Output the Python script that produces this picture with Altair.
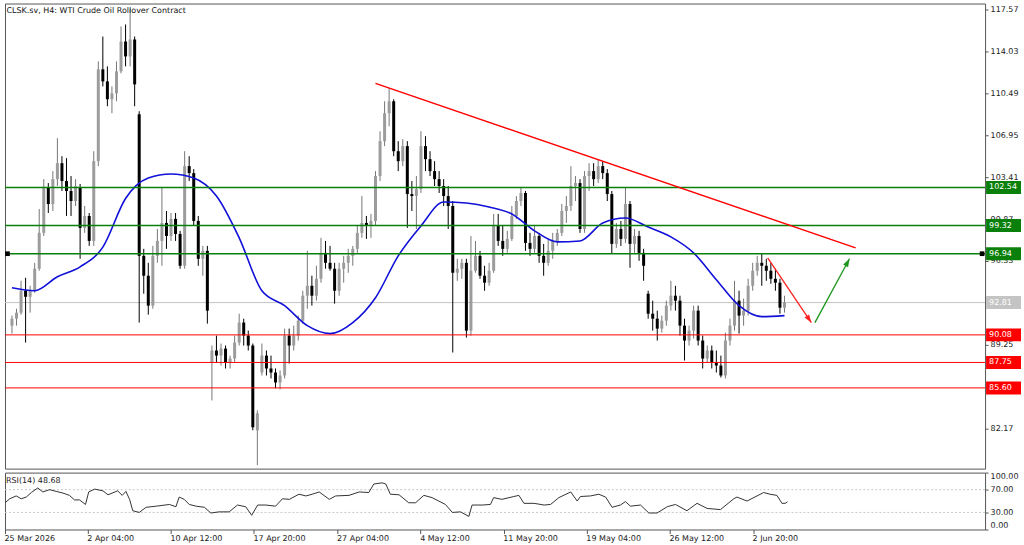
import altair as alt
import pandas as pd

# ---------------- data ----------------
TITLE = "CLSK.sv, H4:  WTI Crude Oil Rollover Contract"
RSI_TITLE = "RSI(14) 48.68"

OPEN = [
    90.86, 91.45, 91.96, 93.81, 93.30, 93.81, 95.67, 98.70, 102.57, 101.14,
    103.24, 104.59, 103.08, 102.24, 101.39, 102.49, 99.12, 100.13, 98.02, 104.76,
    112.52, 111.50, 109.99, 110.49, 112.35, 114.87, 113.61, 115.04, 108.72, 96.76,
    95.08, 92.55, 96.76, 98.02, 99.54, 98.44, 99.88, 98.61, 95.92, 104.34,
    103.75, 99.71, 96.51, 97.18, 87.75, 88.76, 88.33, 88.92, 87.75, 88.08,
    89.43, 91.12, 90.02, 89.18, 82.02, 86.90, 88.33, 87.24, 86.90, 86.06,
    86.65, 90.02, 89.18, 90.02, 91.28, 93.39, 94.23, 93.39, 94.82, 97.01,
    96.17, 95.67, 93.81, 95.67, 96.17, 96.76, 97.35, 98.70, 99.54, 99.29,
    99.71, 103.50, 106.45, 108.81, 109.82, 105.60, 104.76, 106.03, 101.98, 101.81,
    102.40, 106.03, 104.93, 103.92, 103.24, 102.66, 101.81, 100.97, 95.33, 95.67,
    96.17, 90.44, 95.50, 96.76, 95.08, 94.49, 95.50, 99.29, 98.02, 97.35,
    98.19, 100.13, 101.39, 102.07, 97.85, 97.35, 98.44, 96.76, 96.17, 97.18,
    98.02, 98.70, 100.55, 100.97, 102.66, 102.91, 99.03, 103.50, 103.92, 103.24,
    104.34, 103.75, 101.98, 97.77, 99.03, 98.19, 101.14, 97.77, 98.44, 97.01,
    93.56, 91.87, 91.45, 90.61, 91.28, 92.55, 93.39, 92.97, 90.86, 89.60,
    90.44, 92.13, 89.60, 88.08, 88.76, 87.75, 87.49, 86.65, 89.60, 90.86,
    92.97, 91.71, 92.13, 94.23, 95.50, 96.17, 95.92, 95.50, 94.82, 94.49,
    92.38,
]
HIGH = [
    91.71, 92.29, 94.65, 94.91, 94.23, 96.17, 100.72, 103.24, 102.91, 103.92,
    106.70, 105.18, 105.01, 103.50, 103.24, 102.83, 100.97, 100.38, 105.60, 113.19,
    115.29, 112.77, 111.08, 113.19, 116.14, 116.31, 117.65, 115.29, 108.98, 97.35,
    96.17, 97.60, 99.03, 102.49, 100.55, 100.38, 100.38, 98.87, 105.60, 105.18,
    104.09, 100.13, 97.60, 97.60, 89.18, 90.02, 89.35, 89.18, 88.33, 90.02,
    91.87, 91.45, 90.44, 89.35, 83.70, 89.35, 88.76, 88.33, 87.24, 87.07,
    90.61, 90.61, 90.86, 91.71, 93.81, 97.18, 95.08, 95.92, 98.28, 98.02,
    97.60, 96.17, 96.17, 96.76, 97.35, 97.60, 99.29, 101.81, 100.13, 100.30,
    103.92, 107.29, 109.82, 110.91, 109.99, 106.45, 106.62, 106.45, 103.08, 103.50,
    107.29, 106.87, 105.60, 104.76, 103.92, 103.24, 102.66, 101.39, 96.51, 96.51,
    96.51, 98.44, 98.02, 97.18, 95.92, 96.17, 100.30, 100.30, 99.29, 98.87,
    100.97, 101.81, 102.49, 102.24, 98.70, 99.29, 98.70, 97.77, 98.19, 98.70,
    99.03, 101.14, 101.81, 104.34, 103.50, 103.24, 103.92, 104.59, 104.59, 104.93,
    104.76, 104.09, 102.24, 99.54, 99.71, 102.49, 101.39, 99.03, 98.87, 97.35,
    93.81, 92.97, 92.13, 91.71, 92.97, 94.65, 94.23, 93.39, 91.45, 90.86,
    92.55, 92.55, 90.02, 89.18, 89.18, 88.76, 88.33, 90.27, 91.45, 94.65,
    93.81, 93.14, 94.82, 96.17, 96.76, 96.93, 96.51, 96.17, 95.67, 94.82,
    93.39,
]
LOW = [
    90.19, 90.86, 91.79, 89.43, 91.96, 93.64, 95.50, 98.44, 100.38, 100.55,
    102.66, 102.24, 100.13, 100.13, 100.97, 96.51, 98.70, 97.60, 97.60, 104.34,
    111.08, 109.40, 108.81, 109.82, 112.18, 112.77, 112.77, 109.40, 91.12, 93.56,
    91.79, 92.29, 96.17, 95.92, 97.35, 98.02, 98.02, 95.67, 95.67, 103.08,
    99.29, 95.92, 95.08, 91.03, 84.54, 87.75, 87.49, 87.24, 87.24, 87.75,
    89.18, 89.18, 88.76, 82.02, 79.07, 86.65, 86.65, 86.40, 85.56, 85.47,
    86.40, 87.66, 88.76, 89.60, 91.03, 92.29, 92.55, 92.97, 94.49, 95.67,
    95.50, 92.72, 93.39, 94.49, 95.33, 95.92, 97.01, 98.28, 98.19, 98.28,
    99.29, 103.08, 106.03, 107.71, 105.18, 103.92, 104.34, 99.12, 100.55, 99.03,
    102.07, 103.92, 103.50, 102.66, 102.07, 100.97, 99.03, 88.59, 94.65, 94.82,
    89.85, 90.02, 95.33, 94.82, 93.81, 94.23, 95.33, 97.60, 96.76, 97.01,
    98.02, 99.88, 100.97, 97.18, 96.76, 97.01, 96.17, 95.08, 95.92, 96.51,
    97.60, 98.44, 99.54, 100.55, 101.39, 98.70, 98.70, 102.24, 102.66, 102.91,
    103.24, 101.39, 96.93, 97.43, 97.60, 97.85, 95.75, 97.01, 96.34, 94.65,
    91.45, 90.44, 89.60, 90.27, 90.86, 92.13, 92.13, 90.02, 87.91, 89.18,
    89.77, 89.18, 87.24, 87.75, 87.24, 86.90, 86.48, 86.40, 89.18, 90.44,
    90.19, 90.86, 91.71, 93.81, 95.08, 94.23, 94.65, 94.40, 93.81, 91.87,
    91.96,
]
CLOSE = [
    91.45, 91.96, 93.81, 93.30, 93.81, 95.67, 98.70, 102.57, 101.14, 103.24,
    104.59, 103.08, 102.24, 101.39, 102.66, 99.12, 100.13, 98.02, 104.76, 112.52,
    111.50, 109.99, 110.49, 112.35, 114.87, 113.61, 115.04, 111.25, 96.76, 95.08,
    92.55, 96.76, 98.02, 99.54, 98.44, 99.88, 98.61, 95.92, 104.34, 103.75,
    99.71, 96.51, 97.18, 92.13, 88.76, 88.33, 88.92, 87.75, 88.08, 89.43,
    91.12, 90.02, 89.18, 82.27, 83.45, 88.33, 87.24, 86.90, 86.06, 86.65,
    90.02, 89.18, 90.02, 91.28, 93.39, 94.23, 93.39, 94.82, 97.01, 96.17,
    95.67, 93.81, 95.67, 96.17, 96.76, 97.35, 98.70, 99.54, 99.29, 99.71,
    103.50, 106.45, 108.81, 109.82, 105.60, 104.76, 106.03, 101.98, 101.81, 102.40,
    106.03, 104.93, 103.92, 103.24, 102.66, 101.81, 100.97, 95.33, 95.67, 96.17,
    90.44, 95.50, 96.76, 95.08, 94.49, 95.50, 99.29, 98.02, 97.35, 98.19,
    100.13, 101.39, 102.07, 97.85, 97.35, 98.44, 96.76, 96.17, 97.18, 98.02,
    98.70, 100.55, 100.97, 102.66, 102.91, 99.03, 103.50, 103.92, 103.24, 104.34,
    103.75, 101.98, 97.77, 99.03, 98.19, 101.14, 97.77, 98.44, 97.01, 95.92,
    91.87, 91.45, 90.61, 91.28, 92.55, 93.39, 92.97, 90.86, 89.60, 90.44,
    92.13, 89.60, 88.08, 88.76, 87.75, 87.49, 86.65, 89.60, 90.86, 92.97,
    91.71, 92.13, 94.23, 95.50, 96.17, 95.92, 95.50, 94.82, 94.49, 92.38,
    92.81,
]

# moving average sampled every 5 bars
MA_BAR = list(range(0, 171, 5))
MA_VAL = [
    94.06, 93.81, 94.99, 95.83, 97.50, 101.60, 103.33, 103.67, 103.33, 101.81,
    98.28, 93.81, 92.55, 90.86, 90.19, 91.12, 93.22, 96.76, 99.29, 101.31,
    101.22, 100.89, 100.30, 98.87, 97.94, 98.02, 99.54, 99.96, 99.20, 98.36,
    97.01, 94.74, 92.55, 91.62, 91.71,
]

RSI_BAR = [
    -0.4, 0.6, 2.0, 3.1, 4.2, 5.3, 6.7, 7.8, 9.3, 10.7,
    12.2, 13.6, 14.7, 15.8, 17.1, 17.8, 19.1, 20.9, 22.0, 24.1,
    25.1, 25.9, 26.7, 27.4, 28.8, 30.3, 32.5, 35.4, 36.8, 37.5,
    38.6, 39.7, 41.2, 43.0, 44.4, 46.2, 48.4, 50.2, 52.0, 53.3,
    54.6, 56.4, 58.5, 60.0, 61.5, 63.6, 65.1, 66.5, 68.0, 70.2,
    71.6, 74.5, 76.7, 78.8, 79.9, 81.7, 82.5, 83.5, 85.4, 87.5,
    89.0, 90.8, 92.6, 95.5, 97.0, 98.8, 100.6, 101.3, 103.5, 105.3,
    106.0, 107.8, 110.4, 111.5, 112.6, 114.8, 117.0, 118.4, 120.2, 122.8,
    124.2, 124.9, 127.1, 128.9, 130.4, 131.8, 133.6, 134.7, 135.8, 138.0,
    139.8, 141.6, 143.8, 145.6, 148.1, 150.3, 152.5, 155.4, 158.3, 159.0,
    161.2, 164.8, 166.2, 167.7, 168.8, 169.5, 170.0,
]
RSI_VAL = [
    47, 54, 59, 54, 57, 65, 73, 66, 70, 67,
    64, 60, 52, 52, 44, 66, 71, 68, 61, 68,
    60, 67, 53, 33, 30, 39, 41, 44, 40, 57,
    53, 44, 41, 39, 29, 31, 31, 43, 40, 25,
    43, 43, 41, 54, 53, 62, 59, 62, 66, 53,
    59, 60, 66, 65, 80, 82, 80, 62, 61, 47,
    47, 60, 56, 44, 30, 31, 23, 43, 43, 44,
    56, 53, 58, 60, 46, 46, 43, 44, 56, 66,
    50, 58, 59, 62, 57, 39, 43, 49, 41, 43,
    29, 29, 40, 44, 33, 46, 37, 35, 54, 57,
    50, 65, 62, 60, 46, 46, 48.68,
]
RSI_LEVELS = [70, 30]

LEVEL_PRICE = [102.54, 99.32, 96.94, 92.81, 90.08, 87.75, 85.60]
LEVEL_KIND = ["resistance", "resistance", "resistance", "current",
              "support", "support", "support"]
SELECTED_LEVEL = 96.94

TREND_BAR = [80.0, 185.65]
TREND_PRICE = [111.33, 97.43]
DOWN_ARROW_BAR = [166.3, 175.9]
DOWN_ARROW_PRICE = [96.59, 91.12]
UP_ARROW_BAR = [176.7, 184.3]
UP_ARROW_PRICE = [91.12, 96.51]

PRICE_TICKS = [117.57, 114.03, 110.49, 106.95, 103.41, 99.87, 96.33,
               92.79, 89.25, 85.71, 82.17]
RSI_TICKS = [100, 70, 30, 0]
TIME_TICK_BARS = [-0.43, 17.6, 35.7, 53.8, 72.0, 90.1, 108.2, 126.3, 144.4, 162.5]
TIME_LABELS = ["25 Mar 2026", "2 Apr 04:00", "10 Apr 12:00", "17 Apr 20:00",
               "27 Apr 04:00", "4 May 12:00", "11 May 20:00", "19 May 04:00",
               "26 May 12:00", "2 Jun 20:00"]

# ---------------- layout / style ----------------
W = 982
H_MAIN = 466
H_RSI = 57
X_DOMAIN = [-0.4348, 213.04]
Y_DOMAIN = [78.78, 118.08]
FONT = "DejaVu Sans"
FS = 8
FRAME = "#555555"
GREEN = "#0a800a"
RED = "#ff0000"
GREY = "#c4c4c4"
UP_BODY = "#9c9c9c"
UP_WICK = "#767676"
DOWN = "#000000"
ARROW = "M0,0L-0.7,2L0.7,2Z"

xs = alt.Scale(domain=X_DOMAIN, nice=False, zero=False)
ys = alt.Scale(domain=Y_DOMAIN, nice=False, zero=False)
rs = alt.Scale(domain=[0, 100], nice=False, zero=False)
kind_color = alt.Scale(domain=["resistance", "current", "support"], range=[GREEN, GREY, RED])
kind_width = alt.Scale(domain=["resistance", "current", "support"], range=[1.6, 1, 1.6])

bars = pd.DataFrame({"bar": list(range(len(OPEN))), "open": OPEN, "high": HIGH,
                     "low": LOW, "close": CLOSE})
ma = pd.DataFrame({"bar": MA_BAR, "price": MA_VAL})
rsi = pd.DataFrame({"bar": RSI_BAR, "rsi": RSI_VAL})
levels = pd.DataFrame({"price": LEVEL_PRICE, "kind": LEVEL_KIND})
trend = pd.DataFrame({"bar": TREND_BAR, "price": TREND_PRICE})
down_arrow = pd.DataFrame({"bar": DOWN_ARROW_BAR, "price": DOWN_ARROW_PRICE})
up_arrow = pd.DataFrame({"bar": UP_ARROW_BAR, "price": UP_ARROW_PRICE})

price_axis = alt.Axis(orient="right", values=PRICE_TICKS, format=".2f", tickSize=3,
                      tickColor=FRAME, labelPadding=2, domain=False, grid=False,
                      labelOverlap=False, labelFlush=False, title=None,
                      labelFontSize=FS, labelColor="#222222", labelFont=FONT)
rsi_axis = alt.Axis(orient="right", values=RSI_TICKS, format=".2f", tickSize=3,
                    tickColor=FRAME, labelPadding=2, domain=False, grid=False,
                    labelOverlap=False, labelFlush=True, title=None,
                    labelFontSize=FS, labelColor="#222222", labelFont=FONT)


def X():
    return alt.X("bar:Q", scale=xs, axis=None)


def Y(field="price"):
    # every layer carries the same axis definition so the merged axis survives
    return alt.Y(f"{field}:Q", scale=ys, axis=price_axis)


is_up = alt.datum.close >= alt.datum.open

current_line = alt.Chart(levels).transform_filter(alt.datum.kind == "current").mark_rule(
    color=GREY, strokeWidth=1).encode(y=Y())

wicks = alt.Chart(bars).mark_rule(strokeWidth=1).encode(
    x=X(), y=Y("low"), y2="high:Q",
    color=alt.when(is_up).then(alt.value(UP_WICK)).otherwise(alt.value(DOWN)))

bodies = alt.Chart(bars).mark_bar(size=3).encode(
    x=X(), y=Y("open"), y2="close:Q",
    color=alt.when(is_up).then(alt.value(UP_BODY)).otherwise(alt.value(DOWN)))

ma_line = alt.Chart(ma).mark_line(color="#1010d8", strokeWidth=1.6,
                                  interpolate="monotone").encode(x=X(), y=Y())

level_lines = alt.Chart(levels).transform_filter(alt.datum.kind != "current").mark_rule().encode(
    y=Y(), color=alt.Color("kind:N", scale=kind_color, legend=None),
    strokeWidth=alt.StrokeWidth("kind:N", scale=kind_width, legend=None))

trend_line = alt.Chart(trend).mark_line(color=RED, strokeWidth=1.5).encode(x=X(), y=Y())
down_line = alt.Chart(down_arrow).mark_line(color="#ff2020", strokeWidth=1.3).encode(x=X(), y=Y())
up_line = alt.Chart(up_arrow).mark_line(color="#1a961a", strokeWidth=1.3).encode(x=X(), y=Y())
down_head = alt.Chart(down_arrow.tail(1)).mark_point(
    shape=ARROW, size=64, filled=True, opacity=1, color="#ff2020", angle=145.9).encode(x=X(), y=Y())
up_head = alt.Chart(up_arrow.tail(1)).mark_point(
    shape=ARROW, size=64, filled=True, opacity=1, color="#1a961a", angle=28.7).encode(x=X(), y=Y())

boxes = alt.Chart(levels).mark_rect(yOffset=-6.5, y2Offset=6.5).encode(
    x=alt.value(W + 1), x2=alt.value(W + 36), y=Y(), y2="price:Q",
    color=alt.Color("kind:N", scale=kind_color, legend=None))
box_text = alt.Chart(levels).mark_text(
    align="left", baseline="middle", font=FONT, fontSize=FS, color="white").encode(
    x=alt.value(W + 4), y=Y(), text=alt.Text("price:Q", format=".2f"))

sel = alt.Chart(levels).transform_filter(alt.datum.price == SELECTED_LEVEL)
sq_left = sel.mark_square(size=22, color="black", opacity=1).encode(x=alt.value(2.5), y=Y())
sq_right = sel.mark_square(size=22, color="black", opacity=1).encode(x=alt.value(W - 3), y=Y())

title = alt.Chart(pd.DataFrame({"t": [TITLE]})).mark_text(
    align="left", baseline="middle", font=FONT, fontSize=FS, color="#111111").encode(
    x=alt.value(1.5), y=alt.value(7), text="t:N")

main = alt.layer(current_line, wicks, bodies, ma_line, level_lines, trend_line,
                 down_line, up_line, down_head, up_head, boxes, box_text,
                 sq_left, sq_right, title).properties(width=W, height=H_MAIN)

labels_js = "[" + ",".join(repr(s) for s in TIME_LABELS) + "]"
vals_js = "[" + ",".join(repr(v) for v in TIME_TICK_BARS) + "]"
time_axis = alt.Axis(orient="bottom", values=TIME_TICK_BARS,
                     labelExpr=f"{labels_js}[indexof({vals_js}, datum.value)]",
                     labelAlign="left", labelOffset=-1, labelBaseline="top",
                     tickSize=4, tickColor=FRAME, domain=False, grid=False,
                     labelPadding=1, labelFlush=False, labelOverlap=False, title=None,
                     labelFontSize=FS, labelColor="#222222", labelFont=FONT)

rsi_levels = alt.Chart(pd.DataFrame({"lvl": RSI_LEVELS})).mark_rule(
    color="#c8c8c8", strokeDash=[2, 2], strokeWidth=1).encode(
    y=alt.Y("lvl:Q", scale=rs, axis=rsi_axis))
rsi_line = alt.Chart(rsi).mark_line(color="#333333", strokeWidth=1).encode(
    x=alt.X("bar:Q", scale=xs, axis=time_axis),
    y=alt.Y("rsi:Q", scale=rs, axis=rsi_axis))
rsi_title = alt.Chart(pd.DataFrame({"t": [RSI_TITLE]})).mark_text(
    align="left", baseline="middle", font=FONT, fontSize=FS, color="#222222").encode(
    x=alt.value(1), y=alt.value(8), text="t:N")

rsi_panel = alt.layer(rsi_levels, rsi_line, rsi_title).properties(width=W, height=H_RSI)

chart = alt.vconcat(main, rsi_panel, spacing=2).resolve_scale(
    x="independent", y="independent", color="independent").properties(
    padding={"left": 2, "top": 2, "right": 2, "bottom": 0},
    background="white").configure_view(stroke=FRAME, strokeWidth=1)

chart.save("out.html", embed_options={"renderer": "svg", "actions": False})
